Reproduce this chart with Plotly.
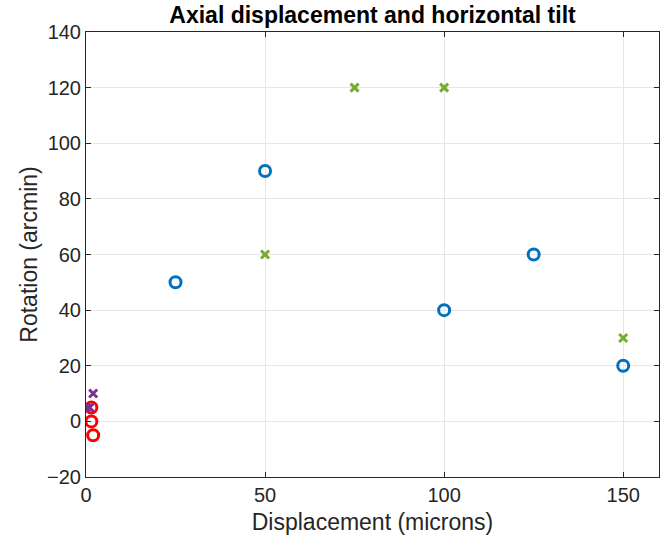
import plotly.graph_objects as go

blue_x = [25, 50, 100, 125, 150]
blue_y = [50, 90, 40, 60, 20]
green_x = [50, 75, 100, 150]
green_y = [60, 120, 120, 30]
red_x = [1.5, 1.5, 2]
red_y = [5, 0, -5]
purple_x = [0, 1, 2]
purple_y = [5, 5, 10]

x_ticks = [0, 50, 100, 150]
y_ticks = [-20, 0, 20, 40, 60, 80, 100, 120, 140]

FONT = "Liberation Sans, Arial, sans-serif"

fig = go.Figure()
fig.add_trace(go.Scatter(x=blue_x, y=blue_y, mode="markers",
    marker=dict(symbol="circle-open", size=11, color="#0072BD", line=dict(width=3, color="#0072BD"))))
fig.add_trace(go.Scatter(x=green_x, y=green_y, mode="markers",
    marker=dict(symbol="x-thin-open", size=8, color="#77AC30", line=dict(width=3, color="#77AC30"))))
fig.add_trace(go.Scatter(x=red_x, y=red_y, mode="markers",
    marker=dict(symbol="circle-open", size=11, color="#FF0000", line=dict(width=3, color="#FF0000"))))
fig.add_trace(go.Scatter(x=purple_x, y=purple_y, mode="markers",
    marker=dict(symbol="x-thin-open", size=8, color="#7E2F8E", line=dict(width=3, color="#7E2F8E"))))

axis_common = dict(showline=True, linecolor="#262626", linewidth=1, mirror="ticks",
                   ticks="inside", ticklen=5, tickcolor="#262626", automargin=False,
                   showgrid=True, gridcolor="#E6E6E6", gridwidth=1, zeroline=False,
                   tickfont=dict(family=FONT, size=20, color="#262626"),
                   title_font=dict(family=FONT, size=23, color="#262626"))

fig.update_layout(
    width=672, height=545,
    margin=dict(l=86, r=13, t=32, b=68),
    plot_bgcolor="white", paper_bgcolor="white",
    showlegend=False,
    title=dict(text="<b>Axial displacement and horizontal tilt</b>", x=0.5, xanchor="center",
               xref="paper",
               y=1 - 15 / 545, yanchor="middle", yref="container",
               font=dict(family=FONT, size=23, color="black")),
    xaxis=dict(range=[0, 160], tickvals=x_ticks, title=dict(text="Displacement (microns)", standoff=8), **axis_common),
    yaxis=dict(range=[-20, 140], tickvals=y_ticks, title=dict(text="Rotation (arcmin)", standoff=3), **axis_common),
)
fig.write_html("out.html", config={"displayModeBar": False},
               post_script="document.body.style.margin='0';document.body.style.padding='0';")
